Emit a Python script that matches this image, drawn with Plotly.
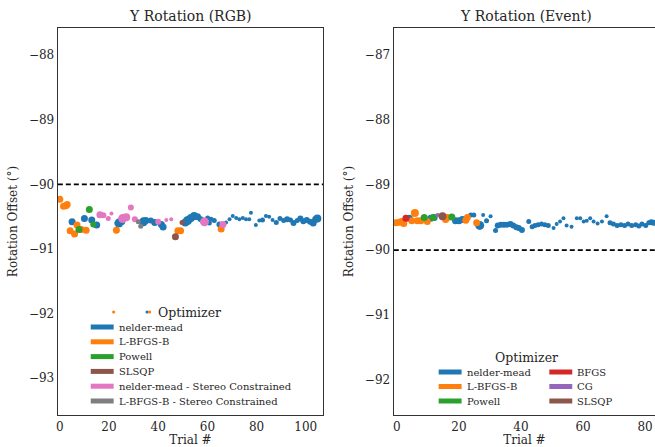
import plotly.graph_objects as go

# ---------------- data: left panel "Y Rotation (RGB)" ----------------
rgb_nm_x = [5, 10, 13, 15, 24, 25, 34, 35, 37, 38.6, 41.3, 42, 51, 52, 53.3, 54.6, 56, 57.3,
            60.1, 60.8, 61.5, 62.8, 64.9, 67.6, 69, 70.3, 71.7, 73, 74.4, 75.7, 77, 77.7,
            79.7, 81.1, 82.4, 83.8, 85.1, 86.5, 88, 89.5, 91, 92.4, 93.8, 95, 96.5, 97.8,
            99, 100.4, 101.7, 103, 104, 104.7]
rgb_nm_y = [-90.58, -90.53, -90.55, -90.63, -90.60, -90.57, -90.58, -90.56, -90.56, -90.59,
            -90.62, -90.66, -90.59, -90.56, -90.52, -90.49, -90.50, -90.54, -90.52, -90.60,
            -90.54, -90.56, -90.62, -90.59, -90.54, -90.49, -90.52, -90.54, -90.52, -90.54,
            -90.54, -90.44, -90.63, -90.56, -90.55, -90.49, -90.50, -90.55, -90.59, -90.53,
            -90.56, -90.54, -90.55, -90.60, -90.56, -90.53, -90.57, -90.55, -90.58, -90.60,
            -90.54, -90.53]
rgb_nm_s = [7, 7, 7, 7, 9, 8, 9, 7, 6, 7, 7, 7, 8, 9, 8, 8, 7, 6, 5, 5, 5, 5, 6, 4, 4, 4, 4,
            4, 4, 4, 4, 4, 4, 4, 5, 4, 4, 4, 5, 5, 5, 6, 5, 6, 5, 6, 6, 6, 6, 7, 7, 8]

rgb_lb_x = [0, 1.5, 2.5, 3, 4.2, 6, 7, 8.7, 10.7, 23, 48, 49.1, 65.6]
rgb_lb_y = [-90.23, -90.34, -90.33, -90.31, -90.72, -90.77, -90.63, -90.70, -90.71, -90.71,
            -90.72, -90.72, -90.69]
rgb_lb_s = [7, 7, 7, 7, 7, 7, 7, 7, 7, 7, 7, 7, 7]

rgb_pw_x = [7.8, 12, 13.6]
rgb_pw_y = [-90.70, -90.39, -90.62]
rgb_pw_s = [7, 7, 6]

rgb_sl_x = [47, 49.7]
rgb_sl_y = [-90.81, -90.59]
rgb_sl_s = [7, 5]

rgb_nms_x = [16.3, 17.7, 19.7, 21, 25.5, 27, 28.9, 30.5, 40, 43.3, 45.3, 58.8, 66.3]
rgb_nms_y = [-90.47, -90.48, -90.53, -90.45, -90.53, -90.51, -90.36, -90.54, -90.58, -90.55,
             -90.54, -90.58, -90.62]
rgb_nms_s = [7, 6, 5, 4, 9, 8, 6, 6, 6, 4, 4, 9, 7]

rgb_lbs_x = [31.9, 32.9]
rgb_lbs_y = [-90.58, -90.65]
rgb_lbs_s = [5, 5]

# ---------------- data: right panel "Y Rotation (Event)" ----------------
ev_nm_x = [4, 10.9, 12, 18.9, 20, 21.1, 23.8, 24.8, 26.7, 27.8, 28.9, 30.2, 31.8, 32.5, 33.5,
           34.5, 35.5, 36.6, 37.5, 38.5, 39.3, 40.3, 42.5, 43.6, 44.5, 45.5, 46.6, 47.7, 48.8,
           50.5, 51.5, 52.6, 53.7, 54.7, 56.3, 58, 59.1, 60.2, 61.2, 62.3, 63.4, 64.7, 66.1,
           67.6, 68.7, 69.8, 71, 72.2, 73.4, 74.5, 75.7, 77, 78, 79, 80.2, 81.2, 82, 82.8]
ev_nm_y = [-89.51, -89.51, -89.50, -89.55, -89.55, -89.53, -89.46, -89.46, -89.62, -89.46,
           -89.55, -89.48, -89.70, -89.62, -89.61, -89.61, -89.61, -89.60, -89.62, -89.65,
           -89.66, -89.69, -89.56, -89.64, -89.62, -89.61, -89.60, -89.61, -89.62, -89.66,
           -89.60, -89.56, -89.51, -89.62, -89.64, -89.51, -89.51, -89.56, -89.55, -89.51,
           -89.56, -89.59, -89.56, -89.48, -89.58, -89.60, -89.62, -89.61, -89.62, -89.60,
           -89.62, -89.61, -89.63, -89.60, -89.62, -89.58, -89.57, -89.58]
ev_nm_s = [7, 7, 7, 7, 7, 7, 5, 5, 9, 4, 5, 4, 5, 6, 6, 6, 6, 6, 6, 6, 6, 6, 5, 5, 5, 5, 5, 5,
           5, 4, 4, 4, 4, 4, 4, 4, 4, 4, 4, 4, 4, 4, 4, 4, 5, 5, 5, 5, 5, 5, 5, 5, 5, 5, 5, 5,
           6, 6]

ev_lb_x = [-0.3, 0.8, 1.5, 2.2, 4.8, 5.8, 6.6, 7.7, 9.8, 15.7, 16.3, 22.2, 22.7, 25.7]
ev_lb_y = [-89.58, -89.57, -89.56, -89.59, -89.55, -89.43, -89.55, -89.55, -89.56, -89.53,
           -89.50, -89.54, -89.50, -89.58]
ev_lb_s = [7, 7, 7, 7, 7, 8, 7, 7, 7, 7, 7, 7, 7, 7]

ev_bf_x = [2.9]
ev_bf_y = [-89.51]
ev_bf_s = [7]

ev_pw_x = [8.8, 11.7, 17.7]
ev_pw_y = [-89.50, -89.50, -89.49]
ev_pw_s = [7, 7, 7]

ev_cg_x = [13.1]
ev_cg_y = [-89.46]
ev_cg_s = [4]

ev_sl_x = [14.7]
ev_sl_y = [-89.48]
ev_sl_s = [8]

ref_value = -90
x_ticks_left = [0, 20, 40, 60, 80, 100]
x_ticks_right = [0, 20, 40, 60, 80]

left_legend_names = ["nelder-mead", "L-BFGS-B", "Powell", "SLSQP",
                     "nelder-mead - Stereo Constrained", "L-BFGS-B - Stereo Constrained"]
right_legend_col1 = ["nelder-mead", "L-BFGS-B", "Powell"]
right_legend_col2 = ["BFGS", "CG", "SLSQP"]

BLUE, ORANGE, GREEN, RED = "#1f77b4", "#ff7f0e", "#2ca02c", "#d62728"
PURPLE, BROWN, PINK, GRAY = "#9467bd", "#8c564b", "#e377c2", "#7f7f7f"
left_legend_colors = [BLUE, ORANGE, GREEN, BROWN, PINK, GRAY]
right_col1_colors = [BLUE, ORANGE, GREEN]
right_col2_colors = [RED, PURPLE, BROWN]

FONT = "DejaVu Serif"
AXC = "#333333"
TXT = "#262626"
W, H = 655, 447

fig = go.Figure()


def add_points(xs, ys, ss, color, xa, ya, name):
    fig.add_trace(go.Scatter(x=xs, y=ys, mode="markers", xaxis=xa, yaxis=ya, name=name,
                             marker=dict(size=ss, color=color, opacity=1, line=dict(width=0)),
                             showlegend=False))


add_points(rgb_nm_x, rgb_nm_y, rgb_nm_s, BLUE, "x", "y", "nelder-mead")
add_points(rgb_lb_x, rgb_lb_y, rgb_lb_s, ORANGE, "x", "y", "L-BFGS-B")
add_points(rgb_pw_x, rgb_pw_y, rgb_pw_s, GREEN, "x", "y", "Powell")
add_points(rgb_sl_x, rgb_sl_y, rgb_sl_s, BROWN, "x", "y", "SLSQP")
add_points(rgb_nms_x, rgb_nms_y, rgb_nms_s, PINK, "x", "y", "nelder-mead - Stereo Constrained")
add_points(rgb_lbs_x, rgb_lbs_y, rgb_lbs_s, GRAY, "x", "y", "L-BFGS-B - Stereo Constrained")

add_points(ev_nm_x, ev_nm_y, ev_nm_s, BLUE, "x2", "y2", "nelder-mead")
add_points(ev_lb_x, ev_lb_y, ev_lb_s, ORANGE, "x2", "y2", "L-BFGS-B")
add_points(ev_bf_x, ev_bf_y, ev_bf_s, RED, "x2", "y2", "BFGS")
add_points(ev_pw_x, ev_pw_y, ev_pw_s, GREEN, "x2", "y2", "Powell")
add_points(ev_cg_x, ev_cg_y, ev_cg_s, PURPLE, "x2", "y2", "CG")
add_points(ev_sl_x, ev_sl_y, ev_sl_s, BROWN, "x2", "y2", "SLSQP")

annotations = [
    dict(text="Y Rotation (RGB)", x=189, y=16, size=14, anchor="center"),
    dict(text="Y Rotation (Event)", x=526, y=16, size=14, anchor="center"),
    dict(text="Optimizer", x=188, y=312, size=12.5, anchor="center"),
    dict(text="Optimizer", x=526, y=357, size=12.5, anchor="center"),
]
shapes = [
    dict(type="line", xref="x domain", yref="y", x0=0, x1=1, y0=ref_value, y1=ref_value,
         line=dict(color="black", width=1.8, dash="5px,3px")),
    dict(type="line", xref="x2 domain", yref="y2", x0=0, x1=1, y0=ref_value, y1=ref_value,
         line=dict(color="black", width=1.8, dash="5px,3px")),
]


def legend_column(names, colors, x_line, y_top, step):
    for i, (nm, c) in enumerate(zip(names, colors)):
        yy = y_top + i * step
        shapes.append(dict(type="line", xref="paper", yref="paper",
                           x0=x_line / W, x1=(x_line + 23) / W,
                           y0=1 - yy / H, y1=1 - yy / H, line=dict(color=c, width=5)))
        annotations.append(dict(text=nm, x=x_line + 26, y=yy, size=10, anchor="left"))


legend_column(left_legend_names, left_legend_colors, 89, 327, 14.8)
legend_column(right_legend_col1, right_col1_colors, 438, 372, 14.5)
legend_column(right_legend_col2, right_col2_colors, 549, 372, 14.5)

# small marker glyphs drawn next to the left legend title in the reference
for cx, c in [(112, ORANGE), (145.5, BLUE), (148, ORANGE)]:
    r = 1.6
    shapes.append(dict(type="circle", xref="paper", yref="paper",
                       x0=(cx - r) / W, x1=(cx + r) / W, y0=1 - (312 + r) / H, y1=1 - (312 - r) / H,
                       fillcolor=c, line=dict(width=0)))

ann_objs = [dict(text=a["text"], x=a["x"] / W, y=1 - a["y"] / H, xref="paper", yref="paper",
                 showarrow=False, font=dict(size=a["size"], family=FONT, color=TXT),
                 xanchor=a["anchor"], yanchor="middle") for a in annotations]

ydom = [1 - 415 / H, 1 - 28 / H]
axis_common = dict(showline=True, linecolor=AXC, linewidth=1.4, showgrid=False, zeroline=False,
                   ticks="", tickfont=dict(family=FONT, size=12, color=TXT))
title_font = dict(family=FONT, size=12, color=TXT)

fig.update_layout(
    width=W, height=H,
    margin=dict(l=0, r=0, t=0, b=0),
    paper_bgcolor="white", plot_bgcolor="white",
    font=dict(family=FONT, color=TXT),
    showlegend=False,
    xaxis=dict(domain=[56 / W, 322 / W], range=[-0.8, 107], anchor="y", mirror=True,
               tickvals=x_ticks_left, title=dict(text="Trial #", font=title_font, standoff=0),
               **axis_common),
    yaxis=dict(domain=ydom, range=[-93.57, -87.58], anchor="x", mirror=True, dtick=1,
               title=dict(text="Rotation Offset (°)", font=title_font, standoff=8),
               **axis_common),
    xaxis2=dict(domain=[393 / W, 1.0], range=[-1, 83.2], anchor="y2", mirror=True,
                tickvals=x_ticks_right, title=dict(text="Trial #", font=title_font, standoff=0),
                **axis_common),
    yaxis2=dict(domain=ydom, range=[-92.54, -86.58], anchor="x2", mirror=False, dtick=1,
                title=dict(text="Rotation Offset (°)", font=title_font, standoff=8),
                **axis_common),
    annotations=ann_objs,
    shapes=shapes,
)

fig.write_html("out.html")
